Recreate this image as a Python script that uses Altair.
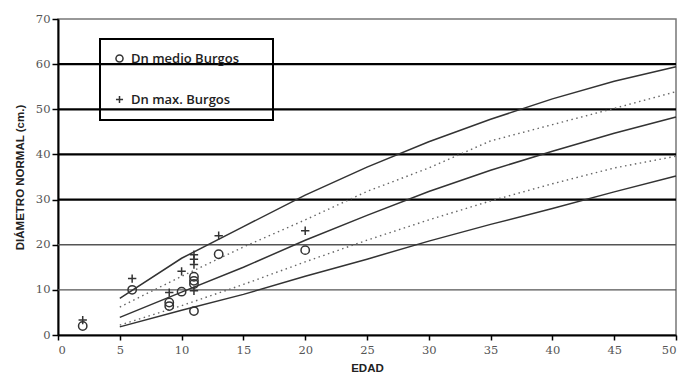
import altair as alt
import pandas as pd

# Age (years) at which the growth curves are drawn
edad = [5, 10, 15, 20, 25, 30, 35, 40, 45, 50]
# Growth curves (diameter, cm)
curva_1 = [8.1, 17.0, 24.0, 31.0, 37.2, 42.8, 47.8, 52.3, 56.2, 59.4]   # solid, upper
curva_2 = [6.2, 13.0, 19.5, 25.5, 31.8, 37.0, 43.0, 46.6, 50.2, 53.9]   # dotted, upper
curva_3 = [3.9, 9.5, 15.0, 21.0, 26.5, 31.8, 36.5, 40.7, 44.7, 48.3]    # solid, middle
curva_4 = [2.2, 6.5, 11.2, 16.2, 21.0, 25.5, 29.7, 33.5, 37.0, 39.6]    # dotted, lower
curva_5 = [1.8, 5.5, 9.0, 13.0, 16.8, 20.8, 24.5, 28.0, 31.7, 35.2]     # solid, lower

# Observed data
medio_x = [2, 6, 9, 9, 10, 11, 11, 11, 11, 13, 20]
medio_y = [2.0, 10.0, 7.2, 6.4, 9.6, 12.9, 12.0, 11.3, 5.3, 17.9, 18.8]
max_x = [2, 6, 9, 10, 11, 11, 11, 11, 13, 20]
max_y = [3.3, 12.5, 9.4, 14.1, 17.8, 16.8, 15.6, 9.8, 22.0, 23.1]

series = ["Dn medio Burgos", "Dn max. Burgos"]
grid_heavy = [30, 40, 50, 60]
grid_light = [10, 20]
x_ticks = list(range(0, 51, 5))
y_ticks = list(range(0, 71, 10))

solid = pd.concat([
    pd.DataFrame({"edad": edad, "dn": c, "curva": n})
    for c, n in [(curva_1, "c1"), (curva_3, "c3"), (curva_5, "c5")]
])
dotted = pd.concat([
    pd.DataFrame({"edad": edad, "dn": c, "curva": n})
    for c, n in [(curva_2, "c2"), (curva_4, "c4")]
])
pts = pd.concat([
    pd.DataFrame({"edad": medio_x, "dn": medio_y, "serie": series[0]}),
    pd.DataFrame({"edad": max_x, "dn": max_y, "serie": series[1]}),
])

SERIF = "DejaVu Serif"
SANS = "Liberation Sans"

xscale = alt.Scale(domain=[0, 50], nice=False)
yscale = alt.Scale(domain=[0, 70], nice=False)

X = lambda f: alt.X(f, scale=xscale, axis=alt.Axis(values=x_ticks, title="EDAD"))
Y = lambda f: alt.Y(f, scale=yscale,
                    axis=alt.Axis(values=y_ticks, title="DIÁMETRO NORMAL (cm.)"))

heavy = alt.Chart(pd.DataFrame({"v": grid_heavy})).mark_rule(
    color="black", strokeWidth=2.2).encode(y=Y("v:Q"))
light = alt.Chart(pd.DataFrame({"v": grid_light})).mark_rule(
    color="#555", strokeWidth=1.4).encode(y=Y("v:Q"))

solid_lines = alt.Chart(solid).mark_line(color="#333", strokeWidth=1.5).encode(
    x=X("edad:Q"), y=Y("dn:Q"), detail="curva:N",
)
dotted_lines = alt.Chart(dotted).mark_line(color="#666", strokeWidth=1.4,
                                           strokeDash=[1.5, 3.5]).encode(
    x=X("edad:Q"), y=Y("dn:Q"), detail="curva:N",
)

# trailing no-break spaces widen the legend frame; the zero-width space keeps
# them from being trimmed
pad = "\u00a0" * 6 + "\u200b"
points = alt.Chart(pts).mark_point(filled=False, color="#333", strokeWidth=1.5,
                                   opacity=1).encode(
    x=X("edad:Q"),
    y=Y("dn:Q"),
    shape=alt.Shape("serie:N", scale=alt.Scale(domain=series,
                                               range=["circle", "M-1,0H1M0,-1V1"]),
                    legend=alt.Legend(orient="none", legendX=42, legendY=20,
                                      title=None, strokeColor="black",
                                      padding=13, rowPadding=26,
                                      labelFont="Open Sans",
                                      labelFontSize=13, labelLimit=300,
                                      labelFontWeight=600, labelColor="#222",
                                      symbolStrokeColor="#333", symbolStrokeWidth=1.5,
                                      symbolSize=50, labelOffset=5,
                                      labelExpr="datum.label + '" + pad + "'")),
    size=alt.value(70),
)

chart = alt.layer(heavy, light, solid_lines, dotted_lines, points).properties(
    width=618, height=316,
    autosize=alt.AutoSizeParams(type="none"),
    padding={"left": 50, "top": 11, "right": 9, "bottom": 45},
).configure_view(
    stroke="#777", strokeWidth=1.5
).configure_legend(
    strokeWidth=2
).configure_axis(
    grid=False, domainColor="black", domainWidth=2, tickColor="black",
    tickWidth=1.5, labelFont=SERIF, labelFontSize=11.5, labelColor="#555",
    titleFont=SANS, titleFontWeight="bold", titleFontSize=11.5, titleColor="#222",
    zindex=1,
).configure_axisX(
    tickSize=5, labelPadding=4, titlePadding=7,
).configure_axisY(
    tickSize=6, labelPadding=2, titlePadding=10,
)

chart.save("out.html", embed_options={"renderer": "svg", "actions": False})
